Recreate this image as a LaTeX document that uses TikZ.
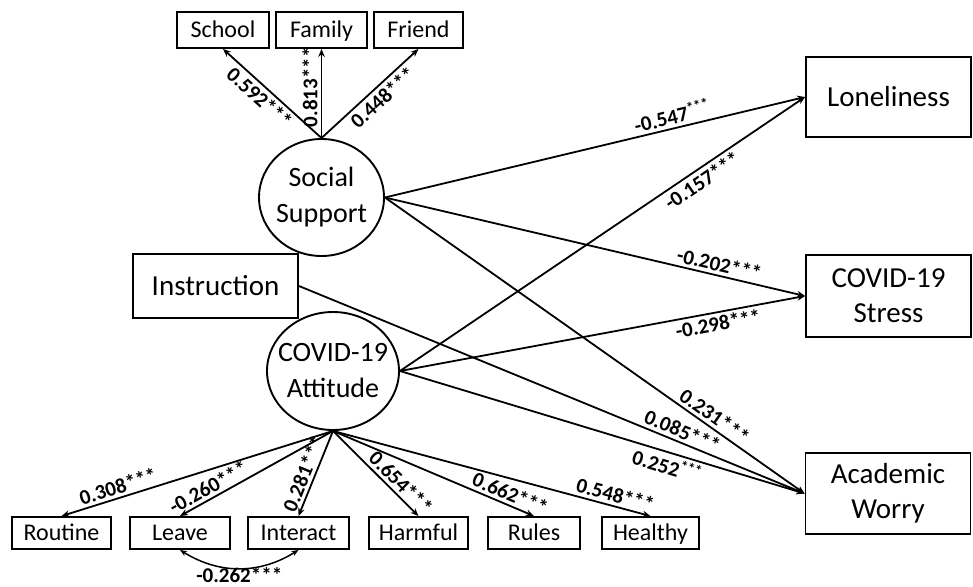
\documentclass[tikz,border=0pt]{standalone}
\usepackage{fontspec}
\setmainfont{Carlito}
\usetikzlibrary{shapes.geometric,arrows.meta}

\begin{document}
\begin{tikzpicture}[x=1pt, y=-1pt,
	box/.style={draw, line width=1.9pt, inner sep=0pt, align=center},
	smallbox/.style={box, minimum height=32pt, text height=15.5pt, text depth=0pt, font=\fontsize{24}{28}\selectfont},
	bigbox/.style={box, minimum width=165pt, minimum height=81pt, font=\fontsize{29}{35}\selectfont},
	latent/.style={draw, ellipse, line width=1.9pt, inner xsep=-15pt, inner ysep=-15pt, align=center, font=\fontsize{28}{36}\selectfont},
	arr/.style={-{Stealth[length=8pt,width=6.5pt]}, line width=1.8pt},
	coef/.style={sloped, inner sep=3pt, font=\bfseries\fontsize{21}{24}\selectfont}]
	
	\useasboundingbox (0,0) rectangle (973,586);
	
	% indicators of social support
	\node[smallbox, minimum width=92pt, minimum height=36pt] (school) at (223,30) {School};
	\node[smallbox, minimum width=91pt, minimum height=36pt] (family) at (321.5,30) {Family};
	\node[smallbox, minimum width=89pt, minimum height=36pt] (friend) at (418.5,30) {Friend};
	
	% predictors
	\node[latent, minimum width=125pt, minimum height=117pt] (social) at (321.5,197.5) {Social\\Support};
	\node[box, minimum width=165pt, minimum height=64pt, font=\fontsize{29}{35}\selectfont] (instr) at (215.5,286) {Instruction};
	\node[latent, minimum width=132pt, minimum height=118pt] (attitude) at (333,371) {COVID-19\\Attitude};
	
	% outcomes
	\node[bigbox, minimum height=80pt] (lonely) at (888.5,97) {Loneliness};
	\node[bigbox, minimum height=82pt] (stress) at (888.5,296) {COVID-19\\Stress};
	\node[bigbox] (worry) at (888,493.5) {Academic\\Worry};
	
	% indicators of attitude
	\node[smallbox, minimum width=99pt] (routine) at (61.5,533) {Routine};
	\node[smallbox, minimum width=100pt] (leave) at (180,533) {Leave};
	\node[smallbox, minimum width=101pt] (interact) at (298.5,533) {Interact};
	\node[smallbox, minimum width=99pt] (harmful) at (418.5,533) {Harmful};
	\node[smallbox, minimum width=92pt] (rules) at (534,533) {Rules};
	\node[smallbox, minimum width=97pt] (healthy) at (650.5,533) {Healthy};
	
	\draw[arr] (social.north) -- (school.south) node[coef, pos=0.55, below] {0.592***};
	\draw[arr] (social.north) -- (family.south) node[coef, pos=0.57, above] {0.813***};
	\draw[arr] (social.north) -- (friend.south) node[coef, pos=0.55, below] {0.448***};
	
	\draw[arr] (social.east) -- (lonely.west) node[coef, pos=0.69, above] {-0.547\textsuperscript{***}};
	\draw[arr] (attitude.east) -- (lonely.west) node[coef, pos=0.73, below] {-0.157***};
	\draw[arr] (social.east) -- (stress.west) node[coef, pos=0.79, above] {-0.202***};
	\draw[arr] (attitude.east) -- (stress.west) node[coef, pos=0.78, below] {-0.298***};
	\draw[arr] (social.east) -- (worry.west) node[coef, pos=0.77, above] {0.231***};
	\draw[arr] (instr.east) -- (worry.west) node[coef, pos=0.75, above] {0.085***};
	\draw[arr] (attitude.east) -- (worry.west) node[coef, pos=0.67, below] {0.252\textsuperscript{***}};
	
	\draw[arr] (attitude.south) -- (routine.north) node[coef, pos=0.78, above] {0.308***};
	\draw[arr] (attitude.south) -- (leave.north) node[coef, pos=0.78, above] {-0.260***};
	\draw[arr] (attitude.south) -- (interact.north) node[coef, pos=0.55, above] {0.281***};
	\draw[arr] (attitude.south) -- (harmful.north) node[coef, pos=0.7, above] {0.654***};
	\draw[arr] (attitude.south) -- (rules.north) node[coef, pos=0.86, above] {0.662***};
	\draw[arr] (attitude.south) -- (healthy.north) node[coef, pos=0.88, above] {0.548***};
	
	% residual covariance
	\draw[{Stealth[length=7pt,width=5.5pt]}-{Stealth[length=7pt,width=5.5pt]}, line width=1.5pt]
		(leave.south) to[bend right=32] node[below, inner sep=0pt, yshift=2pt, font=\bfseries\fontsize{21}{24}\selectfont] {-0.262***} (interact.south);
\end{tikzpicture}
\end{document}
